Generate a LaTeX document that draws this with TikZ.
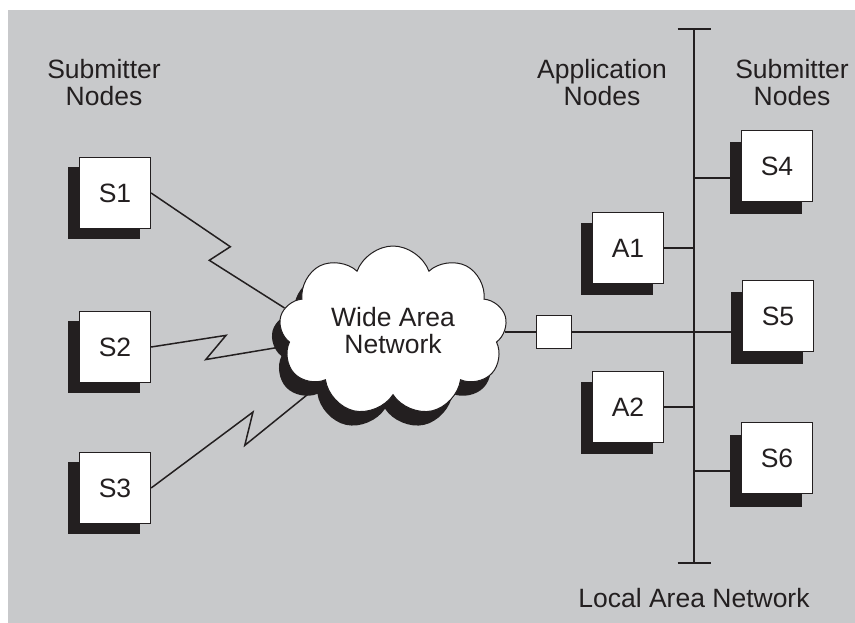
\documentclass[tikz,border=0pt]{standalone}
\usepackage{fontspec}
\setmainfont{Liberation Sans}
\usepackage{tikz}
\usetikzlibrary{positioning,calc,shapes.symbols,shadows}

\definecolor{bggray}{RGB}{200,201,203}
\definecolor{ink}{RGB}{35,31,32}

\begin{document}
\begin{tikzpicture}[x=1pt, y=-1pt,
    every node/.style={font=\fontsize{26.5}{27}\selectfont, text=ink},
    hostbox/.style={draw=ink, line width=1.3pt, fill=white, minimum width=71pt, minimum height=71pt, inner sep=0pt},
    hostshadow/.style={fill=ink, minimum width=72pt, minimum height=72pt, inner sep=0pt},
    link/.style={draw=ink, line width=1.5pt},
    lan/.style={draw=ink, line width=2pt},
    bolt/.style 2 args={to path={-- ($(\tikztostart)!#1!(\tikztotarget)!11pt!90:(\tikztotarget)$) -- ($(\tikztostart)!#2!(\tikztotarget)!13pt!-90:(\tikztotarget)$) -- (\tikztotarget)}}]

    % background
    \fill[bggray] (8,10) rectangle (855,623);
    \useasboundingbox (0,0) rectangle (855,623);

    % group labels
    \node[align=center] (sublabL) at (104,83) {Submitter\\Nodes};
    \node[align=center] (applabel) at (602,83) {Application\\Nodes};
    \node[align=center] (sublabR) at (792,83) {Submitter\\Nodes};

    % submitter nodes (left)
    \node[hostshadow] (S1s) at (104,203) {};
    \node[hostbox] (S1) at (115,193) {S1};
    \node[hostshadow] (S2s) at (104,357) {};
    \node[hostbox] (S2) at (115,347) {S2};
    \node[hostshadow] (S3s) at (104,498) {};
    \node[hostbox] (S3) at (115,488) {S3};

    % wide area network
    \node[cloud, cloud puffs=9, cloud puff arc=140, cloud ignores aspect, draw=ink, line width=1pt, fill=white,
          minimum width=228pt, minimum height=170pt, align=center,
          drop shadow={shadow xshift=-8pt, shadow yshift=-14pt, fill=ink, opacity=1}]
          (wan) at (393,331) {Wide Area\\Network};

    % bridge
    \node[draw=ink, line width=1.3pt, fill=white, minimum width=35pt, minimum height=33pt, inner sep=0pt] (rep) at (554,332) {};

    % local area network
    \coordinate (lantop) at (694,29);
    \coordinate (lanbot) at (694,563);
    \draw[lan] (lantop) -- (lanbot);
    \draw[lan] ([xshift=-16.5pt]lantop) -- ([xshift=16.5pt]lantop);
    \draw[lan] ([xshift=-16.5pt]lanbot) -- ([xshift=16.5pt]lanbot);
    \node[below=22pt of lanbot] (lanlabel) {Local Area Network};

    % application nodes
    \node[hostshadow] (A1s) at (617,259) {};
    \node[hostbox] (A1) at (628,248) {A1};
    \node[hostshadow] (A2s) at (617,418) {};
    \node[hostbox] (A2) at (628,407) {A2};

    % submitter nodes (right)
    \node[hostshadow] (S4s) at (766,178) {};
    \node[hostbox] (S4) at (777,166) {S4};
    \node[hostshadow] (S5s) at (767,328) {};
    \node[hostbox] (S5) at (778,316) {S5};
    \node[hostshadow] (S6s) at (766,471) {};
    \node[hostbox] (S6) at (777,458) {S6};

    % links
    \draw[link] (S1.east) to[bolt={0.54}{0.50}] (wan.168);
    \draw[link] (S2.east) to[bolt={0.55}{0.40}] (wan.188);
    \draw[link] (S3.east) to[bolt={0.62}{0.50}] (wan.216);
    \draw[link] (rep.west -| wan.east) -- (rep.west);
    \draw[link] (rep.east) -- (rep.east -| S5s.west);
    \draw[link] (A1.east) -- (A1.east -| lantop);
    \draw[link] (A2.east) -- (A2.east -| lantop);
    \draw[link] (S4s.west) -- (S4s.west -| lantop);
    \draw[link] (S6s.west) -- (S6s.west -| lantop);
\end{tikzpicture}
\end{document}
